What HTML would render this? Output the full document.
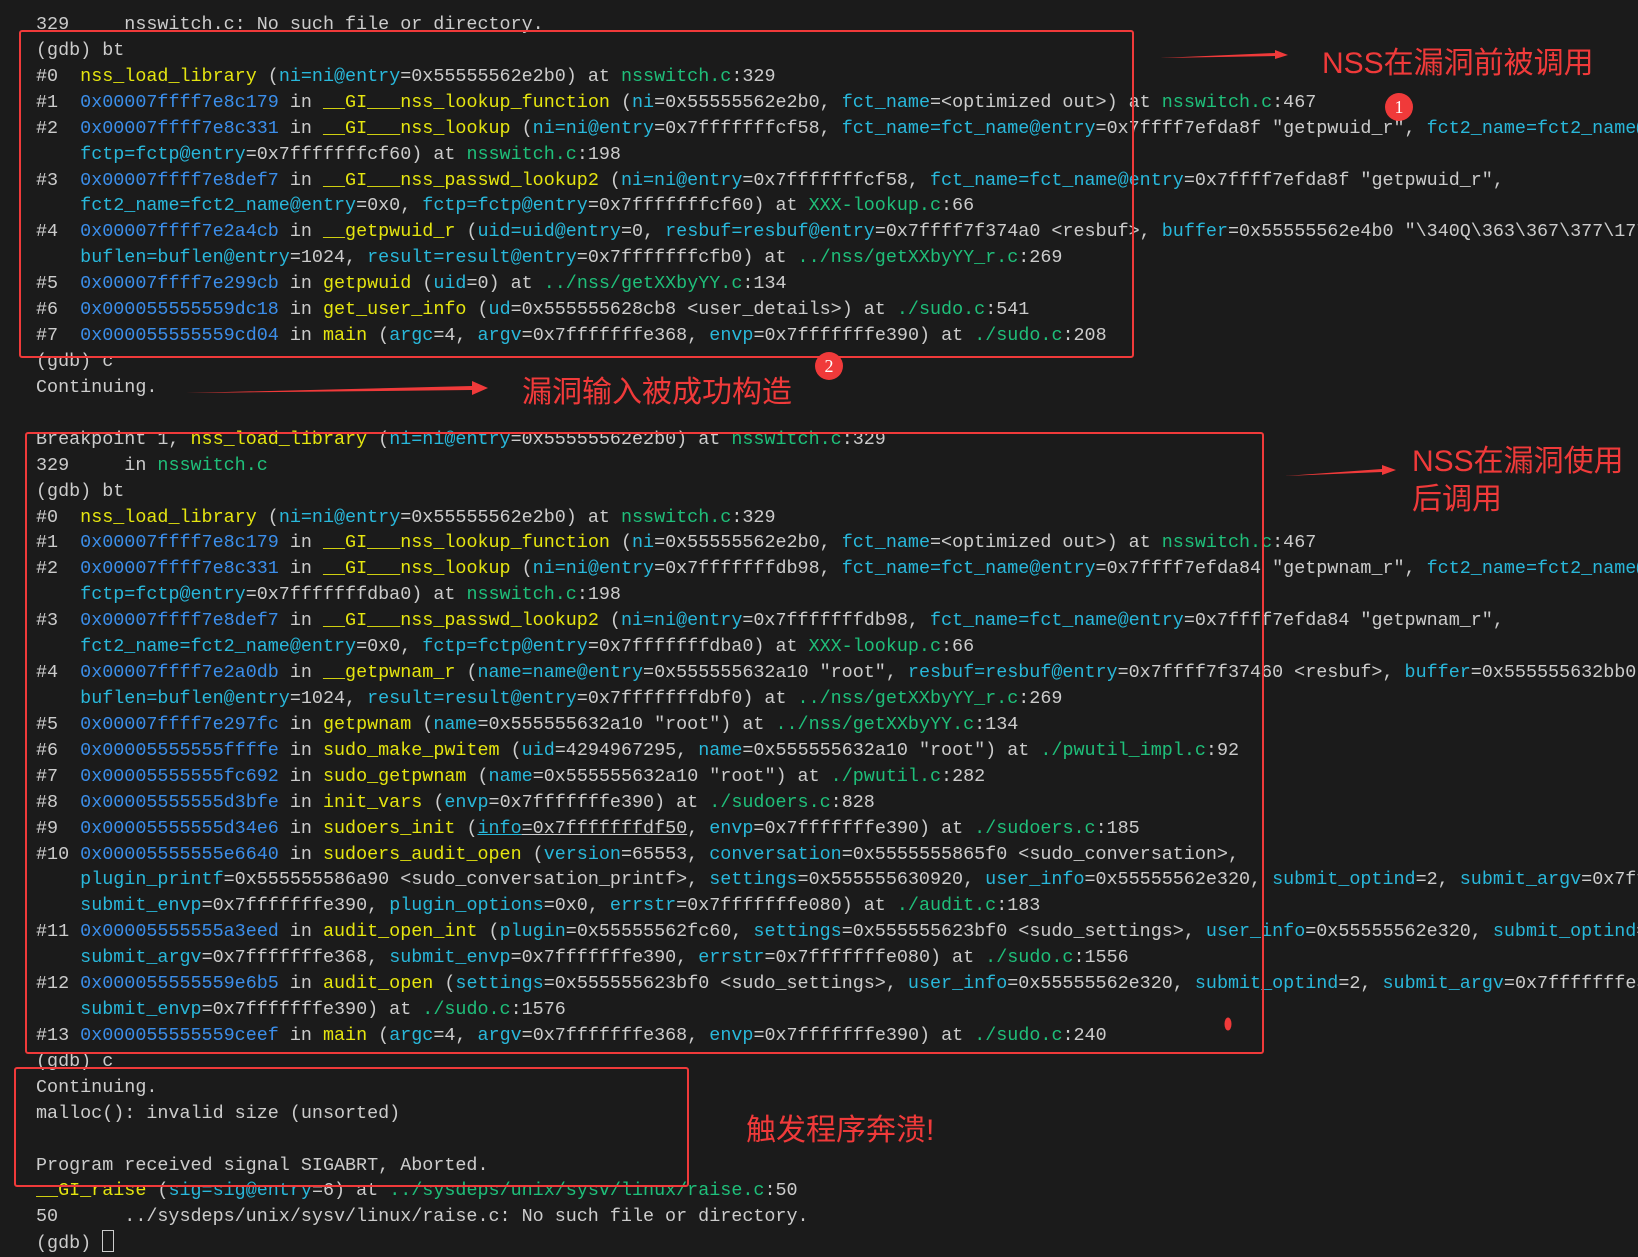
<!DOCTYPE html>
<html><head><meta charset="utf-8"><style>
html,body{margin:0;padding:0;}
body{width:1638px;height:1249px;background:#1b1b1b;position:relative;overflow:hidden;}
pre{position:absolute;left:36px;top:12px;width:1602px;overflow:hidden;margin:0;font-family:"Liberation Mono",monospace;font-size:18.4px;line-height:25.92px;color:#cccccc;white-space:pre;}
.a{color:#3b8eea}.p{color:#29b8db}.f{color:#e5e510}.g{color:#1fbf7a}
.box{position:absolute;border:2.5px solid #f03a3a;border-radius:3px;box-sizing:border-box;}
.t{position:absolute;color:#f03a3a;font-family:"Liberation Sans","Noto Sans CJK SC",sans-serif;font-size:30px;line-height:38px;white-space:nowrap;}
.c{position:absolute;width:28px;height:28px;border-radius:50%;background:#f03a3a;color:#fff;font-family:"Liberation Serif",serif;font-size:18px;line-height:28px;text-align:center;}
</style></head><body>
<pre>329     nsswitch.c: No such file or directory.
(gdb) bt
#0  <span class="f">nss_load_library</span> (<span class="p">ni=ni@entry</span>=0x55555562e2b0) at <span class="g">nsswitch.c</span>:329
#1  <span class="a">0x00007ffff7e8c179</span> in <span class="f">__GI___nss_lookup_function</span> (<span class="p">ni</span>=0x55555562e2b0, <span class="p">fct_name</span>=&lt;optimized out&gt;) at <span class="g">nsswitch.c</span>:467
#2  <span class="a">0x00007ffff7e8c331</span> in <span class="f">__GI___nss_lookup</span> (<span class="p">ni=ni@entry</span>=0x7fffffffcf58, <span class="p">fct_name=fct_name@entry</span>=0x7ffff7efda8f "getpwuid_r", <span class="p">fct2_name=fct2_name@entry</span>=0x0,
    <span class="p">fctp=fctp@entry</span>=0x7fffffffcf60) at <span class="g">nsswitch.c</span>:198
#3  <span class="a">0x00007ffff7e8def7</span> in <span class="f">__GI___nss_passwd_lookup2</span> (<span class="p">ni=ni@entry</span>=0x7fffffffcf58, <span class="p">fct_name=fct_name@entry</span>=0x7ffff7efda8f "getpwuid_r",
    <span class="p">fct2_name=fct2_name@entry</span>=0x0, <span class="p">fctp=fctp@entry</span>=0x7fffffffcf60) at <span class="g">XXX-lookup.c</span>:66
#4  <span class="a">0x00007ffff7e2a4cb</span> in <span class="f">__getpwuid_r</span> (<span class="p">uid=uid@entry</span>=0, <span class="p">resbuf=resbuf@entry</span>=0x7ffff7f374a0 &lt;resbuf&gt;, <span class="p">buffer</span>=0x55555562e4b0 "\340Q\363\367\377\177",
    <span class="p">buflen=buflen@entry</span>=1024, <span class="p">result=result@entry</span>=0x7fffffffcfb0) at <span class="g">../nss/getXXbyYY_r.c</span>:269
#5  <span class="a">0x00007ffff7e299cb</span> in <span class="f">getpwuid</span> (<span class="p">uid</span>=0) at <span class="g">../nss/getXXbyYY.c</span>:134
#6  <span class="a">0x000055555559dc18</span> in <span class="f">get_user_info</span> (<span class="p">ud</span>=0x555555628cb8 &lt;user_details&gt;) at <span class="g">./sudo.c</span>:541
#7  <span class="a">0x000055555559cd04</span> in <span class="f">main</span> (<span class="p">argc</span>=4, <span class="p">argv</span>=0x7fffffffe368, <span class="p">envp</span>=0x7fffffffe390) at <span class="g">./sudo.c</span>:208
(gdb) c
Continuing.

Breakpoint 1, <span class="f">nss_load_library</span> (<span class="p">ni=ni@entry</span>=0x55555562e2b0) at <span class="g">nsswitch.c</span>:329
329     in <span class="g">nsswitch.c</span>
(gdb) bt
#0  <span class="f">nss_load_library</span> (<span class="p">ni=ni@entry</span>=0x55555562e2b0) at <span class="g">nsswitch.c</span>:329
#1  <span class="a">0x00007ffff7e8c179</span> in <span class="f">__GI___nss_lookup_function</span> (<span class="p">ni</span>=0x55555562e2b0, <span class="p">fct_name</span>=&lt;optimized out&gt;) at <span class="g">nsswitch.c</span>:467
#2  <span class="a">0x00007ffff7e8c331</span> in <span class="f">__GI___nss_lookup</span> (<span class="p">ni=ni@entry</span>=0x7fffffffdb98, <span class="p">fct_name=fct_name@entry</span>=0x7ffff7efda84 "getpwnam_r", <span class="p">fct2_name=fct2_name@entry</span>=0x0,
    <span class="p">fctp=fctp@entry</span>=0x7fffffffdba0) at <span class="g">nsswitch.c</span>:198
#3  <span class="a">0x00007ffff7e8def7</span> in <span class="f">__GI___nss_passwd_lookup2</span> (<span class="p">ni=ni@entry</span>=0x7fffffffdb98, <span class="p">fct_name=fct_name@entry</span>=0x7ffff7efda84 "getpwnam_r",
    <span class="p">fct2_name=fct2_name@entry</span>=0x0, <span class="p">fctp=fctp@entry</span>=0x7fffffffdba0) at <span class="g">XXX-lookup.c</span>:66
#4  <span class="a">0x00007ffff7e2a0db</span> in <span class="f">__getpwnam_r</span> (<span class="p">name=name@entry</span>=0x555555632a10 "root", <span class="p">resbuf=resbuf@entry</span>=0x7ffff7f37460 &lt;resbuf&gt;, <span class="p">buffer</span>=0x555555632bb0 "",
    <span class="p">buflen=buflen@entry</span>=1024, <span class="p">result=result@entry</span>=0x7fffffffdbf0) at <span class="g">../nss/getXXbyYY_r.c</span>:269
#5  <span class="a">0x00007ffff7e297fc</span> in <span class="f">getpwnam</span> (<span class="p">name</span>=0x555555632a10 "root") at <span class="g">../nss/getXXbyYY.c</span>:134
#6  <span class="a">0x00005555555ffffe</span> in <span class="f">sudo_make_pwitem</span> (<span class="p">uid</span>=4294967295, <span class="p">name</span>=0x555555632a10 "root") at <span class="g">./pwutil_impl.c</span>:92
#7  <span class="a">0x00005555555fc692</span> in <span class="f">sudo_getpwnam</span> (<span class="p">name</span>=0x555555632a10 "root") at <span class="g">./pwutil.c</span>:282
#8  <span class="a">0x00005555555d3bfe</span> in <span class="f">init_vars</span> (<span class="p">envp</span>=0x7fffffffe390) at <span class="g">./sudoers.c</span>:828
#9  <span class="a">0x00005555555d34e6</span> in <span class="f">sudoers_init</span> (<span class="p" style="text-decoration:underline">info</span><span style="text-decoration:underline">=0x7fffffffdf50</span>, <span class="p">envp</span>=0x7fffffffe390) at <span class="g">./sudoers.c</span>:185
#10 <span class="a">0x00005555555e6640</span> in <span class="f">sudoers_audit_open</span> (<span class="p">version</span>=65553, <span class="p">conversation</span>=0x5555555865f0 &lt;sudo_conversation&gt;,
    <span class="p">plugin_printf</span>=0x555555586a90 &lt;sudo_conversation_printf&gt;, <span class="p">settings</span>=0x555555630920, <span class="p">user_info</span>=0x55555562e320, <span class="p">submit_optind</span>=2, <span class="p">submit_argv</span>=0x7fffffffe368,
    <span class="p">submit_envp</span>=0x7fffffffe390, <span class="p">plugin_options</span>=0x0, <span class="p">errstr</span>=0x7fffffffe080) at <span class="g">./audit.c</span>:183
#11 <span class="a">0x00005555555a3eed</span> in <span class="f">audit_open_int</span> (<span class="p">plugin</span>=0x55555562fc60, <span class="p">settings</span>=0x555555623bf0 &lt;sudo_settings&gt;, <span class="p">user_info</span>=0x55555562e320, <span class="p">submit_optind</span>=2,
    <span class="p">submit_argv</span>=0x7fffffffe368, <span class="p">submit_envp</span>=0x7fffffffe390, <span class="p">errstr</span>=0x7fffffffe080) at <span class="g">./sudo.c</span>:1556
#12 <span class="a">0x000055555559e6b5</span> in <span class="f">audit_open</span> (<span class="p">settings</span>=0x555555623bf0 &lt;sudo_settings&gt;, <span class="p">user_info</span>=0x55555562e320, <span class="p">submit_optind</span>=2, <span class="p">submit_argv</span>=0x7fffffffe368,
    <span class="p">submit_envp</span>=0x7fffffffe390) at <span class="g">./sudo.c</span>:1576
#13 <span class="a">0x000055555559ceef</span> in <span class="f">main</span> (<span class="p">argc</span>=4, <span class="p">argv</span>=0x7fffffffe368, <span class="p">envp</span>=0x7fffffffe390) at <span class="g">./sudo.c</span>:240
(gdb) c
Continuing.
malloc(): invalid size (unsorted)

Program received signal SIGABRT, Aborted.
<span class="f">__GI_raise</span> (<span class="p">sig=sig@entry</span>=6) at <span class="g">../sysdeps/unix/sysv/linux/raise.c</span>:50
50      ../sysdeps/unix/sysv/linux/raise.c: No such file or directory.
(gdb) <span style="display:inline-block;width:10px;height:20px;border:1px solid #ccc;vertical-align:-4px"></span></pre>

<div class="box" style="left:19px;top:30px;width:1115px;height:328px;"></div>
<div class="box" style="left:25px;top:432px;width:1239px;height:622px;"></div>
<div class="box" style="left:14px;top:1067px;width:675px;height:120px;"></div>

<svg width="1638" height="1249" style="position:absolute;left:0;top:0" xmlns="http://www.w3.org/2000/svg">
  <polygon points="1160,58 1275,53 1275,50 1288,55 1275,59 1275,56" fill="#f03a3a"/>
  <polygon points="186,393 472,386 472,381 488,388 472,395 472,390" fill="#f03a3a"/>
  <polygon points="1285,476 1382,469 1382,465 1396,470 1382,475 1382,472" fill="#f03a3a"/>
  <ellipse cx="1228" cy="1024" rx="3.5" ry="6.5" fill="#f03a3a"/>
</svg>

<div class="c" style="left:1385px;top:93px;">1</div>
<div class="c" style="left:815px;top:352px;">2</div>

<div class="t" style="left:1322px;top:45px;">NSS在漏洞前被调用</div>
<div class="t" style="left:522px;top:374px;">漏洞输入被成功构造</div>
<div class="t" style="left:1412px;top:443px;">NSS在漏洞使用</div>
<div class="t" style="left:1412px;top:481px;">后调用</div>
<div class="t" style="left:746px;top:1112px;">触发程序奔溃!</div>
</body></html>
